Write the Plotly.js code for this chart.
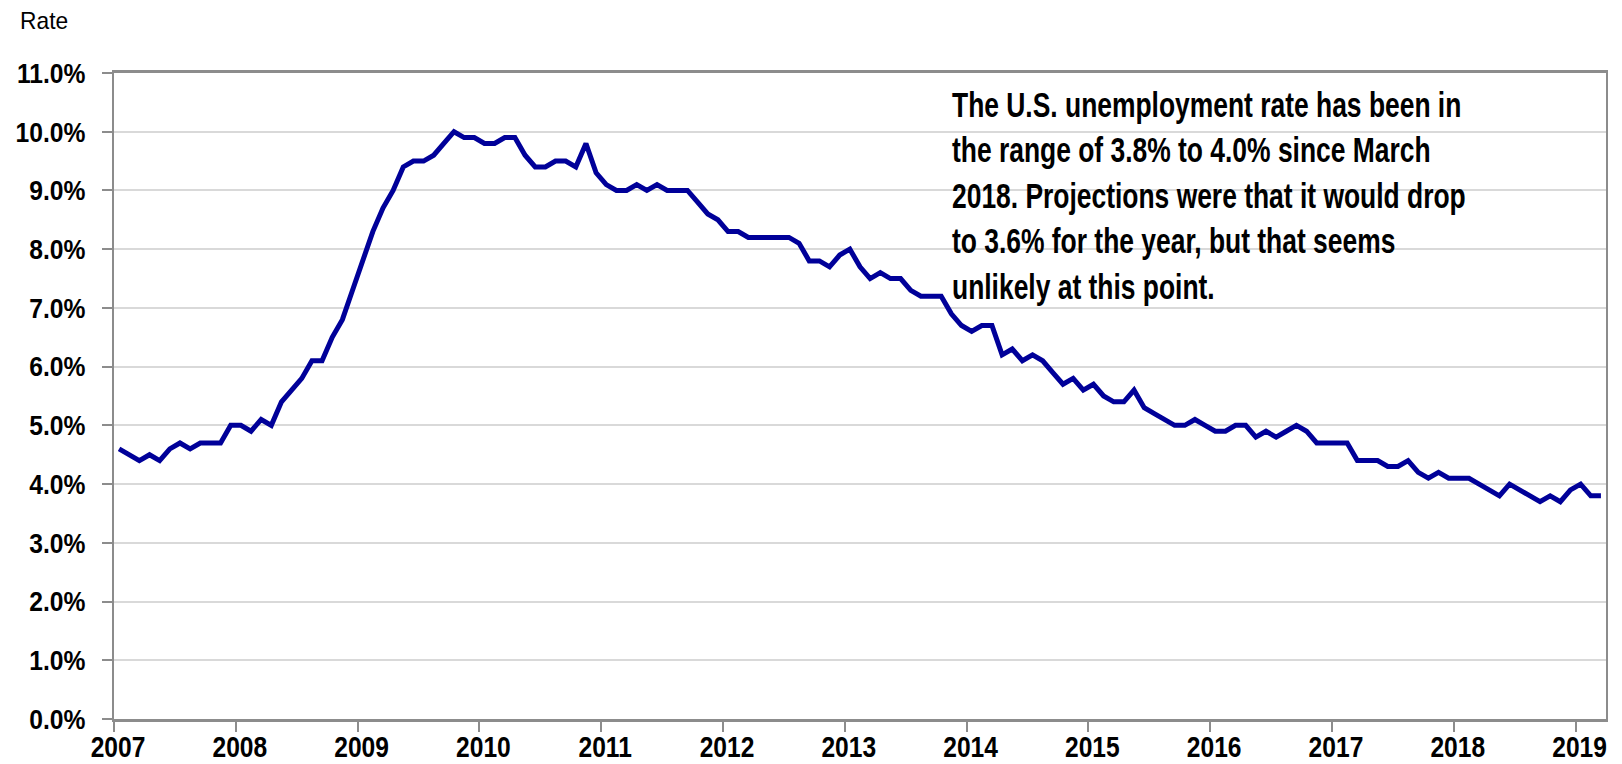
<!DOCTYPE html>
<html>
<head>
<meta charset="utf-8">
<script src="https://cdn.plot.ly/plotly-3.0.1.min.js"></script>
<style>
  html, body { margin: 0; padding: 0; background: #ffffff; }
  #chart { width: 1622px; height: 764px; }
</style>
</head>
<body>
<div id="chart"></div>
<script>
// Monthly U.S. unemployment rate (%), Jan 2007 – Mar 2019
const yearLabels = ['2007','2008','2009','2010','2011','2012','2013','2014','2015','2016','2017','2018','2019'];
const rate2007 = [4.6,4.5,4.4,4.5,4.4,4.6,4.7,4.6,4.7,4.7,4.7,5.0];
const rate2008 = [5.0,4.9,5.1,5.0,5.4,5.6,5.8,6.1,6.1,6.5,6.8,7.3];
const rate2009 = [7.8,8.3,8.7,9.0,9.4,9.5,9.5,9.6,9.8,10.0,9.9,9.9];
const rate2010 = [9.8,9.8,9.9,9.9,9.6,9.4,9.4,9.5,9.5,9.4,9.8,9.3];
const rate2011 = [9.1,9.0,9.0,9.1,9.0,9.1,9.0,9.0,9.0,8.8,8.6,8.5];
const rate2012 = [8.3,8.3,8.2,8.2,8.2,8.2,8.2,8.1,7.8,7.8,7.7,7.9];
const rate2013 = [8.0,7.7,7.5,7.6,7.5,7.5,7.3,7.2,7.2,7.2,6.9,6.7];
const rate2014 = [6.6,6.7,6.7,6.2,6.3,6.1,6.2,6.1,5.9,5.7,5.8,5.6];
const rate2015 = [5.7,5.5,5.4,5.4,5.6,5.3,5.2,5.1,5.0,5.0,5.1,5.0];
const rate2016 = [4.9,4.9,5.0,5.0,4.8,4.9,4.8,4.9,5.0,4.9,4.7,4.7];
const rate2017 = [4.7,4.7,4.4,4.4,4.4,4.3,4.3,4.4,4.2,4.1,4.2,4.1];
const rate2018 = [4.1,4.1,4.0,3.9,3.8,4.0,3.9,3.8,3.7,3.8,3.7,3.9];
const rate2019 = [4.0,3.8,3.8];

const yTickValues = [0,1,2,3,4,5,6,7,8,9,10,11];
const noteText = 'The U.S. unemployment rate has been in<br>the range of 3.8% to 4.0% since March<br>2018. Projections were that it would drop<br>to 3.6% for the year, but that seems<br>unlikely at this point.';
const yAxisLabel = 'Rate';

const rates = [].concat(rate2007, rate2008, rate2009, rate2010, rate2011, rate2012,
                        rate2013, rate2014, rate2015, rate2016, rate2017, rate2018, rate2019);
const monthIndex = rates.map((_, i) => i);
const yearTickVals = yearLabels.map((_, k) => k * 12 - 0.5);

const sansFamily = '"Liberation Sans", Arial, sans-serif';

const trace = {
  x: monthIndex,
  y: rates,
  type: 'scatter',
  mode: 'lines',
  line: { color: '#000099', width: 5, shape: 'linear' },
  hoverinfo: 'y'
};

const layout = {
  width: 1622,
  height: 764,
  margin: { l: 114, r: 16, t: 73, b: 45 },
  paper_bgcolor: '#ffffff',
  plot_bgcolor: '#ffffff',
  showlegend: false,
  xaxis: {
    range: [-0.5, rates.length - 0.5],
    tickmode: 'array',
    tickvals: yearTickVals,
    ticktext: yearLabels,
    ticks: 'outside',
    ticklen: 10,
    tickwidth: 2,
    tickcolor: '#8c8c8c',
    ticklabelstandoff: -11,
    showgrid: false,
    zeroline: false,
    showline: true,
    linecolor: '#8c8c8c',
    linewidth: 3,
    mirror: true,
    tickfont: { family: sansFamily, size: 30, color: '#000000', weight: 700 },
    fixedrange: true
  },
  yaxis: {
    range: [0, 11],
    tickmode: 'array',
    tickvals: yTickValues,
    ticktext: yTickValues.map(v => v.toFixed(1) + '%'),
    ticks: 'outside',
    ticklen: 10,
    tickwidth: 2,
    tickcolor: '#8c8c8c',
    ticklabelstandoff: 11,
    showgrid: true,
    gridcolor: '#d9d9d9',
    gridwidth: 2,
    zeroline: false,
    showline: true,
    linecolor: '#8c8c8c',
    linewidth: 2,
    mirror: true,
    tickfont: { family: sansFamily, size: 28, color: '#000000', weight: 700 },
    fixedrange: true
  },
  annotations: [
    {
      xref: 'paper', yref: 'paper',
      x: 0.5603, y: 0.811,
      xanchor: 'left', yanchor: 'middle',
      align: 'left',
      showarrow: false,
      text: noteText,
      font: { family: sansFamily, size: 35, color: '#000000', weight: 700 }
    },
    {
      xref: 'paper', yref: 'paper',
      x: -0.0643, y: 1.082,
      xanchor: 'left', yanchor: 'middle',
      showarrow: false,
      text: yAxisLabel,
      font: { family: sansFamily, size: 24, color: '#000000' }
    }
  ]
};

// The reference uses tall, narrow lettering: compress text horizontally around an anchor.
function squish(selector, s, mode, dx) {
  document.querySelectorAll(selector).forEach(el => {
    const bb = el.getBBox();
    const ax = mode === 'left' ? bb.x : (mode === 'right' ? bb.x + bb.width : bb.x + bb.width / 2);
    const prev = el.getAttribute('transform') || '';
    el.setAttribute('transform', prev + ' translate(' + (ax + (dx || 0)) + ',0) scale(' + s + ',1) translate(' + (-ax) + ',0)');
  });
}

Plotly.newPlot('chart', [trace], layout, { displayModeBar: false, staticPlot: true }).then(() => {
  squish('.xtick text', 0.82, 'center', 4);
  squish('.ytick text', 0.88, 'right', 0);
  squish('.annotation[data-index="0"] .annotation-text', 0.755, 'left', 0);
  squish('.annotation[data-index="1"] .annotation-text', 0.95, 'left', 0);
});
</script>
</body>
</html>
